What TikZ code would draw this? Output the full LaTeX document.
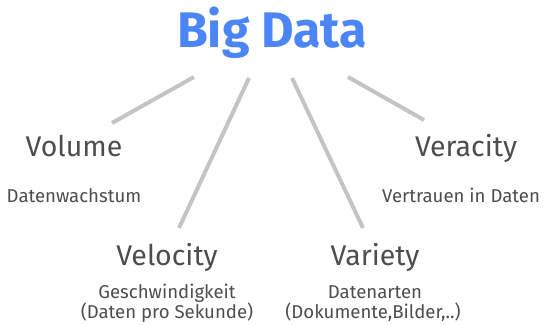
\documentclass[tikz,border=0pt]{standalone}
\usepackage{fontspec}
\setmainfont{Fira Sans}
\definecolor{titleblue}{RGB}{76,134,246}
\definecolor{txtgray}{RGB}{77,77,77}
\definecolor{linegray}{RGB}{196,196,196}
\begin{document}
\begin{tikzpicture}[x=1pt,y=-1pt,
  title/.style={font=\fontsize{50}{50}\selectfont\bfseries, text=titleblue, anchor=base, inner sep=0},
  head/.style={font=\fontsize{28.5}{28.5}\selectfont, text=txtgray, anchor=base, inner sep=0},
  sub/.style={font=\fontsize{18.6}{18.6}\selectfont, text=txtgray, anchor=base, inner sep=0},
  link/.style={draw=linegray, line width=4pt}]
\useasboundingbox (0,0) rectangle (548,324);
\node[title] (t) at (272,47) {Big Data};
\node[head] (vol) at (74,156) {Volume};
\node[sub] (vols) at (74,202) {Datenwachstum};
\node[head] (vel) at (167,265) {Velocity};
\node[sub] (vels1) at (167,298) {Geschwindigkeit};
\node[sub] (vels2) at (167,318) {(Daten pro Sekunde)};
\node[head] (var) at (375,265) {Variety};
\node[sub] (vars1) at (375,298) {Datenarten};
\node[sub] (vars2) at (373,318) {(Dokumente,Bilder,..)};
\node[head] (ver) at (466,156) {Veracity};
\node[sub] (vers) at (461,202) {Vertrauen in Daten};
\coordinate (a1) at (112,123); \coordinate (a2) at (194,77);
\coordinate (b1) at (249,78); \coordinate (b2) at (179,228);
\coordinate (c1) at (292,78); \coordinate (c2) at (363,228);
\coordinate (d1) at (348,77); \coordinate (d2) at (424,120);
\draw[link] (a1) -- (a2);
\draw[link] (b1) -- (b2);
\draw[link] (c1) -- (c2);
\draw[link] (d1) -- (d2);
\end{tikzpicture}
\end{document}
